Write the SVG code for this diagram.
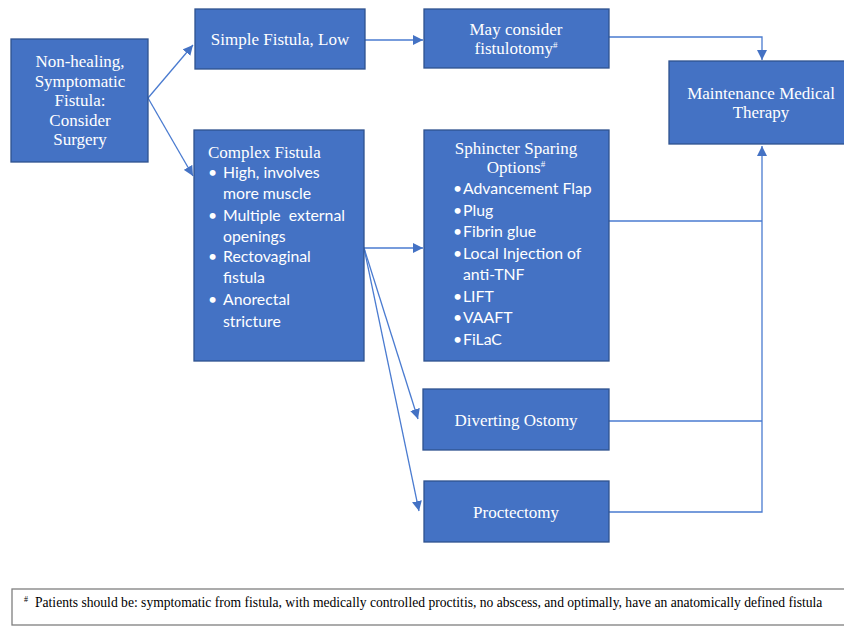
<svg xmlns="http://www.w3.org/2000/svg" width="844" height="627" viewBox="0 0 844 627">
<style>
.box{fill:#4472C4;stroke:#2F528F;stroke-width:1.3}
.t{font-family:"Liberation Serif","Times New Roman",serif;font-size:17px;fill:#fff}
.c{text-anchor:middle}
.b{font-family:Lato,"Liberation Sans",sans-serif;font-size:15.8px;fill:#fff}
.con{fill:none;stroke:#4A7BD0;stroke-width:1.3}
.sup{font-size:9px}
.foot{font-family:"Liberation Serif","Times New Roman",serif;font-size:13.6px;fill:#000}
</style>
<defs>
<marker id="ah" viewBox="0 0 10 10" refX="10" refY="5" markerWidth="10" markerHeight="10" markerUnits="userSpaceOnUse" orient="auto">
<path d="M0,0 L10,5 L0,10 Z" fill="#4472C4"/>
</marker>
</defs>
<rect width="844" height="627" fill="#fff"/>
<g id="connectors">
<line class="con" x1="148" y1="98" x2="193" y2="45" marker-end="url(#ah)"/>
<line class="con" x1="148" y1="98" x2="193" y2="176" marker-end="url(#ah)"/>
<line class="con" x1="365" y1="40" x2="423" y2="40" marker-end="url(#ah)"/>
<polyline class="con" points="609,37 762,37 762,60" marker-end="url(#ah)"/>
<line class="con" x1="364" y1="248" x2="423" y2="248" marker-end="url(#ah)"/>
<line class="con" x1="364" y1="248" x2="418" y2="419" marker-end="url(#ah)"/>
<line class="con" x1="364" y1="248" x2="419" y2="511" marker-end="url(#ah)"/>
<polyline class="con" points="609,221 762,221"/>
<polyline class="con" points="609,421 762,421"/>
<polyline class="con" points="609,512 762,512 762,146" marker-end="url(#ah)"/>
</g>
<g id="nonhealing">
<rect class="box" x="11" y="39" width="137" height="123"/>
<text class="t c" x="80" y="67">Non-healing,</text>
<text class="t c" x="80" y="87">Symptomatic</text>
<text class="t c" x="80" y="106">Fistula:</text>
<text class="t c" x="80" y="126">Consider</text>
<text class="t c" x="80" y="145">Surgery</text>
</g>
<g id="simple">
<rect class="box" x="195" y="9" width="170" height="60"/>
<text class="t c" x="280" y="45">Simple Fistula, Low</text>
</g>
<g id="fistulotomy">
<rect class="box" x="424" y="9" width="185" height="59"/>
<text class="t c" x="516" y="35">May consider</text>
<text class="t c" x="516" y="54">fistulotomy<tspan class="sup" dy="-6">#</tspan></text>
</g>
<g id="maintenance">
<rect class="box" x="669" y="61" width="186" height="83"/>
<text class="t c" x="761" y="99">Maintenance Medical</text>
<text class="t c" x="761" y="118">Therapy</text>
</g>
<g id="complex">
<rect class="box" x="194" y="130" width="170" height="231"/>
<text class="t" x="208" y="158">Complex Fistula</text>
<g class="b">
<text x="208" y="178">•</text><text x="223" y="178">High, involves</text>
<text x="223" y="199">more muscle</text>
<text x="208" y="221">•</text><text x="223" y="221" xml:space="preserve">Multiple  external</text>
<text x="223" y="242">openings</text>
<text x="208" y="262">•</text><text x="223" y="262">Rectovaginal</text>
<text x="223" y="283">fistula</text>
<text x="208" y="305">•</text><text x="223" y="305">Anorectal</text>
<text x="223" y="327">stricture</text>
</g>
</g>
<g id="sphincter">
<rect class="box" x="424" y="130" width="185" height="231"/>
<text class="t c" x="516" y="154">Sphincter Sparing</text>
<text class="t c" x="516" y="173">Options<tspan class="sup" dy="-6">#</tspan></text>
<g class="b">
<text x="453" y="194">•</text><text x="463" y="194">Advancement Flap</text>
<text x="453" y="216">•</text><text x="463" y="216">Plug</text>
<text x="453" y="237">•</text><text x="463" y="237">Fibrin glue</text>
<text x="453" y="259">•</text><text x="463" y="259">Local Injection of</text>
<text x="463" y="280">anti-TNF</text>
<text x="453" y="302">•</text><text x="463" y="302">LIFT</text>
<text x="453" y="323">•</text><text x="463" y="323">VAAFT</text>
<text x="453" y="345">•</text><text x="463" y="345">FiLaC</text>
</g>
</g>
<g id="diverting">
<rect class="box" x="423" y="389" width="186" height="61"/>
<text class="t c" x="516" y="426">Diverting Ostomy</text>
</g>
<g id="proctectomy">
<rect class="box" x="424" y="481" width="185" height="61"/>
<text class="t c" x="516" y="518">Proctectomy</text>
</g>
<g id="footnote">
<rect x="12" y="589" width="840" height="36" fill="#fff" stroke="#7f7f7f" stroke-width="1.3"/>
<text class="foot" x="24" y="607"><tspan font-size="8" dy="-5">#</tspan><tspan x="35" dy="5">Patients should be: symptomatic from fistula, with medically controlled proctitis, no abscess, and optimally, have an anatomically defined fistula</tspan></text>
</g>
</svg>
